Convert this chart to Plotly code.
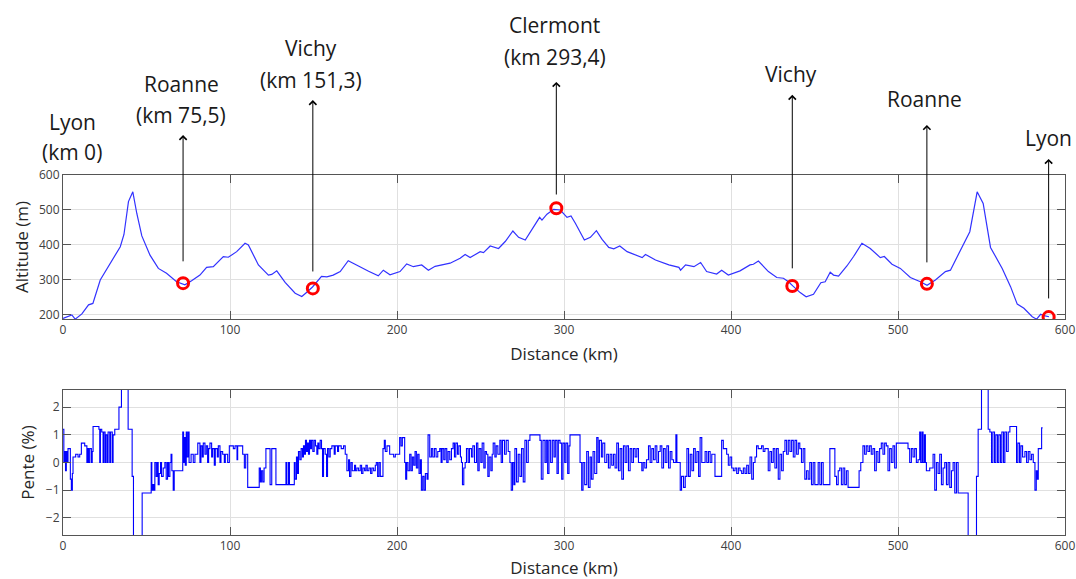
import plotly.graph_objects as go

# ---------------- DATA ----------------
# Altitude profile (km, m)
alt_km = [0, 2.2, 5.3, 7.3, 11.3, 15.3, 17.9, 22.3, 28.3, 34.3, 36.5, 39.2, 41.8, 44.2, 47.2,
          52.1, 57.1, 62, 68, 71.6, 73, 77, 82, 86, 90, 96, 99, 104, 109, 111, 117, 123, 125,
          128, 133, 139, 143, 146, 149.4, 154.8, 158, 161.8, 166, 170.8, 176.7, 177.8, 183,
          188.8, 191.8, 195.8, 201.8, 205.8, 209.8, 214.8, 218.8, 222.8, 231.8, 237.8, 240.8,
          243.8, 249.8, 251.8, 255.8, 260.8, 264.8, 269.4, 272.8, 276.8, 281.8, 285.4, 286.8,
          289.8, 293.8, 297.8, 301.8, 304.2, 306.8, 312.2, 315.8, 319.4, 322.8, 326.8, 329.8,
          333.4, 337.8, 343.8, 346.8, 348.8, 354.8, 362.8, 368.8, 369.8, 372.8, 377.8, 381.8,
          385.4, 391.4, 394.4, 398.4, 405.4, 411.4, 413.4, 416.4, 422.4, 427.4, 431.4, 434.4,
          437, 441.4, 445, 449.4, 453.8, 456.4, 459.4, 461.4, 464.4, 469.4, 473.4, 478.4,
          483.4, 489.4, 491.8, 496.4, 501.4, 507.4, 513.4, 517.4, 522.4, 528.4, 531.4, 535.4,
          541.4, 543, 547.4, 551, 555.4, 562.4, 567.4, 571.4, 575.4, 580.4, 583, 585.4, 587.4,
          590.4]
alt_m = [190, 195, 200, 188, 203, 229, 233, 300, 348, 395, 430, 524, 552, 490, 426,
         371, 333, 319, 295, 287, 286, 298, 314, 336, 338, 367, 365, 381, 405, 400, 343, 314, 316,
         326, 293, 262, 253, 265, 280, 310, 309, 314, 324, 355, 340, 338, 325,
         312, 328, 315, 324, 346, 338, 343, 328, 339, 348, 362, 373,
         364, 381, 378, 397, 390, 410, 440, 422, 414, 452, 479, 471,
         488, 502, 500, 479, 483, 462, 414, 422, 441, 416, 393, 389,
         397, 381, 371, 364, 373, 357, 343, 336, 328, 343, 338, 350,
         324, 317, 328, 314, 326, 343, 345, 354, 324, 307, 305, 295,
         283, 264, 252, 259, 292, 295, 322, 314, 311, 340, 367, 405,
         390, 364, 367, 345, 333, 307, 295, 285, 300, 324, 328, 367,
         424, 438, 552, 519, 393, 333, 281, 231, 219, 195, 188, 202, 198,
         195]

# Slope profile (step start km, slope %)
slope_km = [0, 0.5, 1, 1.5, 2, 2.5, 3, 4.4, 5, 5.6, 6, 7.6, 9, 10, 11, 13, 14.3, 14.8, 15.3, 16,
            17, 17.5, 18, 21.5, 22, 22.4, 23.2, 24, 24.4, 25.2, 25.6, 26.4, 27, 28, 28.5, 29.5, 30,
            31, 33.5, 35, 39, 41.4, 42.2, 47.4, 52.8, 53.2, 53.8, 54.4, 55, 55.8, 56.5, 57, 57.6,
            58.4, 59, 60, 61, 61.8, 62.6, 63.2, 64, 64.7, 65.2, 66, 66.6, 71.7, 72.2, 72.6, 73.2,
            73.8, 74.3, 75, 75.5, 76.7, 78, 79, 80.7, 82, 82.6, 83.4, 84, 85, 85.8, 86.6, 87.2, 88,
            89, 89.6, 90.6, 91.2, 92.4, 93, 94, 94.6, 95.6, 96.6, 97.2, 98.6, 99.6, 102, 103, 104.2,
            104.6, 107.6, 108.6, 109.4, 110.6, 117.5, 118.2, 118.8, 119.6, 120.4, 121.5, 124, 125,
            127.5, 133.5, 134, 135, 135.6, 138.5, 139, 139.8, 140.4, 141, 141.8, 142.6, 143.4, 144,
            144.6, 145.2, 145.8, 146.4, 147, 147.6, 148.2, 148.8, 149.6, 150.4, 151.2, 152, 152.6,
            153.2, 154, 154.8, 155.4, 156, 157, 157.8, 158.4, 159.2, 160, 161, 162.4, 163, 164.4,
            165, 166.6, 168, 169, 170, 171, 171.6, 172.4, 173.2, 174.6, 175.2, 176, 177, 178, 178.8,
            179.6, 180.6, 181.4, 182.2, 183.2, 184.2, 185, 186, 187, 187.6, 188.4, 189.2, 190, 191.6,
            192.4, 193, 194, 195.6, 198, 199, 201.6, 202.4, 203.2, 204.6, 205.2, 205.8, 206.6,
            207.6, 208.4, 209.2, 210, 210.8, 211.6, 212.4, 213.2, 214, 214.6, 215.4, 216.2, 217,
            218, 218.6, 219.6, 220.6, 221.4, 222.4, 223.4, 224.4, 225.6, 226.4, 227, 228, 228.8,
            229.8, 230.6, 231.6, 232.6, 233.6, 234.4, 235.2, 236.2, 237, 238, 238.6, 239.2, 240,
            240.8, 241.6, 242.6, 243.4, 244.6, 245.4, 246.4, 247.6, 248.4, 249.2, 250.2, 251, 252,
            252.8, 253.6, 254.4, 255.2, 256.2, 257, 257.6, 258.6, 259.4, 260.4, 261.6, 262.4, 263.2,
            264.4, 265.4, 266.6, 267.6, 268.4, 269.2, 270, 270.6, 271.6, 272.6, 273.6, 274.6, 275.6,
            276.6, 277.6, 278.6, 279.6, 285.6, 286.4, 287.4, 288.6, 289.4, 290.2, 291, 292, 293,
            294, 294.8, 295.8, 296.6, 297.6, 298.6, 299.4, 300.4, 301.2, 302.2, 303, 303.6, 309.6,
            310.6, 311.4, 312.4, 313.6, 314.6, 315.6, 316.4, 317.4, 318.4, 319.6, 320.4, 321.2,
            322.4, 323.2, 324.4, 325.6, 326.6, 327.6, 328.6, 329.6, 330.6, 331.6, 332.6, 333.6,
            334.6, 335.6, 336.6, 337.6, 338.6, 339.6, 340.6, 341.6, 342.6, 343.6, 344.6, 346.6,
            347.4, 348.4, 349.4, 350.6, 351.6, 352.6, 353.6, 354.6, 355.6, 356.6, 357.6, 358.6,
            359.6, 360.6, 361.6, 362.6, 363.6, 364.6, 365.6, 367, 367.6, 369.6, 370.4, 371.6, 372.6,
            373.6, 374.6, 375.6, 376.6, 377.6, 378.6, 379.6, 380.6, 381.5, 382.5, 384.5, 385.5,
            386.5, 387.5, 388.5, 390.4, 394.4, 395.4, 397.4, 398.4, 399.4, 400.4, 401.4, 402.4,
            403.4, 404.4, 405.4, 406.4, 407.4, 408.4, 409.4, 410.4, 411.4, 412.4, 413.4, 414.4,
            415.3, 416.3, 418.3, 419.3, 420.3, 422.3, 423.3, 424.3, 425.3, 426.3, 427.3, 428.3,
            429.3, 430.3, 431.3, 432.3, 433.3, 434.3, 435.3, 436.3, 437.3, 438.3, 439.3, 440.3,
            441.2, 442.2, 443.2, 444.2, 445.2, 446.2, 447.2, 448.2, 449.2, 450.2, 452.2, 453.2,
            454.2, 455.2, 459.2, 462.2, 463.2, 464.2, 465.1, 466.1, 467.1, 468.1, 469.1, 470.1,
            476.7, 477.7, 479, 480, 481, 482, 483, 484, 485, 486, 487, 488, 489, 490, 491, 492, 493,
            494, 495, 496, 497, 498, 499, 506, 507, 508, 509, 510, 511, 512, 513, 513.6, 514.4, 515,
            515.8, 516.4, 517, 519, 521, 522, 523, 524, 525, 526, 527, 528, 529, 530, 531, 532, 533,
            534, 535, 536, 537, 542, 547, 548, 550, 554, 555, 556, 556.8, 557.8, 558.6, 559.6,
            560.4, 561.4, 562.2, 563.2, 564, 565, 566, 567, 571, 571.8, 572.8, 573.6, 574.6, 576,
            577, 578, 579, 580, 581, 582, 582.8, 583.4, 584, 586, 586.6]
slope_pct = [1.2, 0.0, 0.4, -0.3, 0.4, 0.0, 0.5, -0.6, -1.0, -0.4, 0.2, 0.3, 0.2, 0.3, 0.7, 0.6, 0.0, 0.5, 0.0, 0.5,
             0.0, 0.4, 1.3, 1.2, 0.0, 1.2, 1.1, 0.0, 1.1, 0.0, 1.0, 0.0, 1.1, 0.0, 1.1, 0.0, 1.0,
             1.2, 2.0, 3.0, 1.2, -0.5, -3.0, -1.1, 0.0, -1.0, -0.8, -1.0, 0.0, -0.5, 0.0, -0.8, -0.4,
             0.0, -0.5, -0.2, 0.0, -0.6, 0.0, -0.5, 0.0, 0.3, -0.3, -1.0, -0.3, 1.1, 0.0, 0.9, -0.1,
             1.1, 0.2, 1.1, 0.0, 0.3, 0.0, 0.3, 0.7, 0.0, 0.6, 0.2, 0.7, 0.3, 0.6, 0.0, 0.5, 0.7,
             0.2, 0.5, -0.1, 0.5, 0.2, 0.6, 0.0, 0.4, 0.3, 0.0, 0.3, 0.0, 0.6, 0.5, 0.6, 0.1,
             0.6, 0.3, -0.2, 0.3, -0.9, -0.2, -0.7, -0.3, -0.7, -0.2, 0.5, -0.8, 0.5,
             -0.8, 0.0, -0.8, 0.0, -0.8, 0.0, -0.6, 0.2, -0.4, 0.4, 0.1, 0.5, 0.2, 0.6,
             0.3, 0.8, 0.4, 0.7, 0.3, 0.8, 0.5, 0.8, 0.4, 0.8, 0.6, 0.3, 0.7,
             0.5, 0.8, 0.5, -0.5, 0.5, 0.3, -0.5, 0.5, 0.2, 0.5, 0.6, 0.3, 0.6, 0.4,
             0.6, 0.5, 0.6, 0.3, -0.3, 0.1, -0.5, 0.0, -0.3, -0.1, -0.3, -0.2, -0.3, -0.1, -0.4,
             -0.2, -0.3, -0.1, -0.3, -0.2, -0.4, -0.2, -0.3, -0.1, 0.0, -0.5, 0.0, -0.5, 0.5,
             0.8, 0.4, 0.6, 0.3, 0.2, 0.3, 0.9, 0.6, 0.9, 0.0, -0.6, 0.0, -0.3,
             0.3, -0.3, 0.2, -0.1, 0.4, -0.2, 0.3, -0.4, 0.1, -1.0, -0.5, -1.0, -0.4,
             -0.6, 1.0, 0.2, 0.5, 0.2, 0.5, 0.2, 0.4, 0.5, 0.0, 0.5, 0.1, 0.5,
             0.0, 0.4, 0.1, 0.5, 0.7, 0.2, 0.7, 0.3, 0.6, 0.2, 0.0, -0.8, -0.2,
             0.0, 0.5, 0.0, 0.5, 0.2, 0.6, 0.0, 0.7, -0.3, 0.5, 0.0, 0.7, -0.2,
             0.4, 0.3, -0.5, 0.2, -0.3, 0.3, 0.7, 0.2, 0.6, 0.3, 0.8, 0.0, 0.8,
             0.3, 0.8, 0.4, 0.0, -1.0, 0.0, -0.8, 0.5, -0.7, 0.3, -0.5, 0.5, -0.7,
             0.8, 0.0, 0.8, 1.0, 0.8, -0.6, 0.8, 0.0, 0.8, -0.4, 0.8, 0.0, 0.8,
             0.2, 0.8, -0.4, 0.8, 0.7, -0.6, 0.7, 0.0, 0.7, -0.4, 0.6, 1.0, 0.0,
             -1.0, 0.0, -0.8, 0.4, -0.9, 0.2, -0.6, 0.4, -0.4, 0.9, 0.0, 0.8,
             0.2, 0.7, 0.0, 0.3, -0.2, 0.3, -0.1, 0.3, -0.2, 0.7, -0.3, 0.5,
             -0.6, 0.6, 0.0, 0.6, -0.3, 0.5, 0.0, 0.5, 0.2, 0.5, 0.0, -0.3,
             0.0, -0.2, 0.1, 0.6, 0.0, 0.5, 0.1, 0.6, 0.0, 0.4, 0.6, -0.2,
             0.5, 0.0, 0.6, -0.2, 0.4, 0.1, 0.0, 1.0, 0.0, -1.0, -0.5, -0.9, -0.5,
             0.5, -0.5, 0.3, -0.3, 0.5, 0.0, 0.4, -0.5, 0.9, 0.0, 0.4, 0.0,
             0.4, 0.0, 0.3, -0.5, 0.8, 0.5, 0.3, -0.1, 0.2, -0.2, -0.3, -0.2,
             -0.4, -0.2, -0.3, -0.4, -0.2, -0.4, -0.1, -0.4, 0.2, -0.6, 0.0, 0.2,
             0.6, 0.5, 0.6, 0.4, 0.5, -0.3, 0.4, 0.0, 0.5, -0.2, 0.5, -0.6,
             0.3, -0.3, 0.4, 0.8, 0.3, 0.8, 0.4, 0.8, 0.2, 0.8, 0.3, 0.7,
             0.5, 0.0, 0.5, -0.6, -0.3, -0.6, 0.0, -0.8, 0.0, -0.8, 0.0, -0.8,
             0.0, -0.8, 0.5, -0.5, -0.8, -0.3, -0.2, -0.8, -0.2, -0.8, -0.3, -0.9,
             -0.3, 0.0, 0.6, 0.3, 0.6, 0.4, 0.6, 0.3, 0.5, -0.3, 0.4, 0.0, 0.5, 0.7, 0.3, 0.7, 0.6,
             -0.3, 0.5, 0.0, 0.6, -0.2, 0.7, 0.5, 0.0, 0.5, 0.2, 0.5, 0.0, 0.1, 1.1, 0.0, 1.1, 0.0,
             1.0, 0.0, -0.3, -0.2, 0.3, -1.0, 0.0, -0.4, 0.3, -0.8, -0.2, 0.0, -0.8, 0.0, -0.9, -0.3, 0.0,
             -1.1, 0.0, -1.1, -1.1, -3.0, -0.5, 1.2, 3.0, 1.2, 1.1, 0.0, 1.1, 0.0, 1.0, 0.0,
             1.0, 0.0, 1.1, 0.0, 1.1, 0.4, 1.1, 1.3, 0.0, 0.7, 0.0, 0.6, 0.2, 0.4,
             0.0, 0.4, 0.1, 0.3, 0.0, -1.0, -0.3, -0.6, 0.5, 1.25, 1.25]

# Stops (marked points)
stop_km = [71.9, 149.6, 295.4, 436.7, 517.3, 590.2]
stop_alt = [291, 276, 505, 283, 289, 194]
arrow_tail_alt = [349, 320, 540, 329, 346, 243]
arrow_head_alt = [714, 814, 866, 829, 743, 646]

# Labels above the chart
label_line1 = ["Lyon", "Roanne", "Vichy", "Clermont", "Vichy", "Roanne", "Lyon"]
label_line2 = ["(km 0)", "(km 75,5)", "(km 151,3)", "(km 293,4)", "", "", ""]
label_km = [5.4, 70.7, 148.5, 294.6, 436, 516, 590.4]
label_y1_px = [122, 84, 48, 25, 74, 99, 138]
label_y2_px = [152, 115, 80, 57, None, None, None]

x_ticks = [0, 100, 200, 300, 400, 500, 600]
alt_ticks = [200, 300, 400, 500, 600]
slope_ticks = [-2, -1, 0, 1, 2]

# ---------------- FIGURE ----------------
W, H = 1076, 579
M_T, M_B, M_L, M_R = 175, 44, 63, 11
PLOT_H = H - M_T - M_B


def py(px):
    return (H - M_B - px) / PLOT_H


fig = go.Figure()
fig.add_trace(go.Scatter(x=alt_km, y=alt_m, mode="lines",
                         line=dict(color="rgb(50,50,255)", width=1.2),
                         xaxis="x", yaxis="y", showlegend=False))
fig.add_trace(go.Scatter(x=stop_km, y=stop_alt, mode="markers",
                         marker=dict(symbol="circle-open", size=11, color="red",
                                     line=dict(color="red", width=3)),
                         xaxis="x", yaxis="y", showlegend=False))
fig.add_trace(go.Scatter(x=slope_km, y=slope_pct, mode="lines", line_shape="hv",
                         line=dict(color="blue", width=1.1),
                         xaxis="x2", yaxis="y2", showlegend=False))

tickfont = dict(family="Open Sans", size=12, color="#404040")
titlefont = dict(family="Open Sans", size=17, color="#262626")
common = dict(showline=True, linecolor="#555555", linewidth=1, mirror="ticks",
              ticks="inside", ticklen=8, tickwidth=1, tickcolor="#555555",
              showgrid=True, gridcolor="#e0e0e0", gridwidth=1, zeroline=False,
              tickfont=tickfont, automargin=False)

fig.update_layout(
    width=W, height=H,
    margin=dict(l=M_L, r=M_R, t=M_T, b=M_B, pad=0),
    paper_bgcolor="white", plot_bgcolor="white",
    font=dict(family="Open Sans"),
    xaxis=dict(domain=[0, 1], range=[0, 600], tickvals=x_ticks, anchor="y",
               title=dict(text="Distance (km)", font=titlefont, standoff=10), **common),
    yaxis=dict(domain=[py(319), 1], range=[188.5, 600], tickvals=alt_ticks, anchor="x",
               title=dict(text="Altitude (m)", font=titlefont, standoff=6), **common),
    xaxis2=dict(domain=[0, 1], range=[0, 600], tickvals=x_ticks, anchor="y2",
                title=dict(text="Distance (km)", font=titlefont, standoff=9), **common),
    yaxis2=dict(domain=[0, py(390)], range=[-2.62, 2.62], tickvals=slope_ticks, anchor="x2",
                title=dict(text="Pente (%)", font=titlefont, standoff=6), **common),
)

for km, tail, head in zip(stop_km, arrow_tail_alt, arrow_head_alt):
    fig.add_annotation(x=km, y=head, xref="x", yref="y", ax=km, ay=tail,
                       axref="x", ayref="y", text="", showarrow=True,
                       arrowhead=4, arrowsize=1.4, arrowwidth=1, arrowcolor="black",
                       standoff=0, startstandoff=0)

annfont = dict(family="Open Sans", size=21, color="#1a1a1a")
for km, t1, t2, y1, y2 in zip(label_km, label_line1, label_line2, label_y1_px, label_y2_px):
    fig.add_annotation(x=km, y=py(y1), xref="x", yref="paper", text=t1,
                       showarrow=False, font=annfont, xanchor="center", yanchor="middle")
    if t2:
        fig.add_annotation(x=km, y=py(y2), xref="x", yref="paper", text=t2,
                           showarrow=False, font=annfont, xanchor="center", yanchor="middle")

fig.write_html("out.html")
